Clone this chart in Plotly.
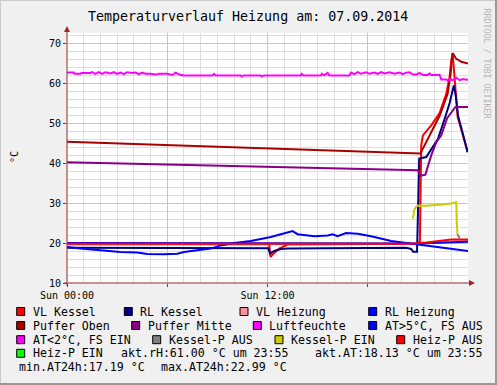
import plotly.graph_objects as go

# ---------------- data (hours of day, °C / %) ----------------
vl_kessel_t = [0, 12.1, 12.18, 12.35, 12.7, 13.2, 21.0, 21.12, 21.2, 21.3, 21.8, 22.3, 22.7, 22.9, 23.0, 23.08, 23.18, 23.28, 23.38, 23.7, 23.98]
vl_kessel_v = [19.7, 19.7, 16.5, 17.3, 18.6, 19.6, 19.8, 20.5, 44.4, 46.9, 49.4, 52.5, 57.3, 61.5, 65.7, 67.3, 62.3, 56.5, 51.5, 46.9, 42.7]

rl_kessel_t = [0, 12.05, 12.15, 12.4, 12.8, 13.2, 20.3, 20.6, 20.72, 20.95, 21.02, 21.08, 21.5, 22.2, 22.6, 22.9, 23.15, 23.28, 23.4, 23.7, 23.98]
rl_kessel_v = [18.8, 18.7, 17.4, 18.0, 18.5, 18.6, 18.8, 18.5, 17.8, 17.8, 30.0, 41.1, 41.5, 46.0, 51.0, 55.0, 59.4, 56.5, 51.9, 46.9, 42.7]

vl_heizung_t = [0, 12, 21, 24]
vl_heizung_v = [19.8, 19.8, 19.8, 20.7]

rl_heizung_t = [0, 12, 21, 24]
rl_heizung_v = [20.0, 19.95, 19.85, 20.3]

puffer_oben_t = [0, 21.15, 21.3, 21.5, 21.8, 22.3, 22.78, 22.95, 23.08, 23.28, 23.6, 24.0]
puffer_oben_v = [45.3, 42.35, 43.6, 45.3, 47.8, 51.8, 57.3, 62.0, 67.5, 66.1, 65.3, 64.85]

puffer_mitte_t = [0, 21.0, 21.15, 21.45, 21.8, 22.1, 22.4, 22.75, 23.25, 24.0]
puffer_mitte_v = [40.2, 38.2, 36.8, 37.1, 41.9, 45.2, 46.9, 51.2, 54.0, 54.0]

luft_t = [0.0, 0.4, 0.45, 0.8, 0.85, 1.4, 1.5, 1.7, 1.9, 2.1, 2.3, 2.6, 2.8, 3.0, 3.2, 3.4, 3.6, 3.9, 4.1, 4.3,
          4.5, 4.7, 5.0, 5.3, 5.5, 5.8, 6.0, 6.3, 6.5, 6.7, 7.0, 8.7, 8.8, 8.9, 10.4, 10.45, 10.6, 11.6, 11.65, 11.8,
          14.0, 14.05, 14.15, 15.2, 15.25, 15.4, 15.6, 15.7, 16.9, 17.0, 17.2, 17.4, 17.6, 17.9, 18.1, 18.4, 18.6,
          18.8, 19.0, 19.3, 19.6, 19.9, 20.1, 20.3, 20.5, 20.7, 20.9, 21.1, 21.3, 21.6, 21.7, 21.8, 22.3, 22.4,
          22.7, 22.8, 22.9, 23.1, 23.3, 23.5, 23.7, 23.9, 24.0]
luft_v = [62.6, 62.6, 62.3, 62.3, 62.5, 62.5, 62.7, 62.3, 62.7, 62.3, 62.7, 62.4, 62.7, 62.3, 62.6, 62.2, 62.7, 62.5, 62.6, 62.2,
          62.6, 62.3, 62.3, 62.1, 62.3, 62.2, 62.3, 62.0, 62.6, 62.1, 61.9, 61.9, 62.3, 61.9, 61.9, 61.6, 61.9, 61.9, 61.6, 61.9,
          61.9, 62.3, 61.9, 61.9, 62.3, 61.9, 62.5, 61.9, 61.9, 62.6, 62.2, 62.7, 62.3, 62.7, 62.3, 62.6, 62.3,
          62.7, 62.4, 62.7, 62.3, 62.6, 62.2, 62.6, 62.7, 62.1, 62.1, 62.5, 62.0, 62.0, 62.4, 62.0, 62.0, 60.9,
          60.9, 60.6, 61.0, 60.7, 61.3, 60.7, 61.0, 60.8, 60.9]

at_warm_t = [0, 0.8, 2.0, 3.2, 4.2, 4.8, 5.8, 6.6, 7.0, 7.8, 8.6, 9.2, 10.0, 11.0, 12.2, 12.8, 13.5, 13.8, 14.8, 15.6,
             15.9, 16.2, 16.7, 17.4, 18.2, 19.4, 20.3, 22.1, 24.0]
at_warm_v = [19.0, 18.6, 18.2, 17.75, 17.6, 17.25, 17.2, 17.3, 17.75, 18.2, 18.6, 19.4, 20.0, 20.5, 21.5, 22.2, 22.99, 22.2, 21.7, 21.9,
             22.2, 21.7, 22.5, 22.3, 21.7, 20.5, 20.0, 19.0, 18.0]

kessel_aus_t = [23.36, 23.42, 23.5]
kessel_aus_v = [22.2, 21.6, 21.2]

kessel_ein_t = [20.7, 20.78, 20.88, 21.0, 21.5, 22.0, 22.5, 23.0, 23.3, 23.33, 23.37]
kessel_ein_v = [26.1, 28.2, 29.0, 29.4, 29.3, 29.4, 29.6, 29.9, 30.2, 25.0, 22.2]

heiz_aus_t = [0, 20.5, 21.5, 22.5, 23.0, 24.0]
heiz_aus_v = [19.8, 19.8, 20.1, 20.5, 20.85, 20.9]

# legend entries
legend_items = [
    ("VL Kessel", "#FF0000"), ("RL Kessel", "#000080"), ("VL Heizung", "#FF8C9F"), ("RL Heizung", "#0000FF"),
    ("Puffer Oben", "#AA0000"), ("Puffer Mitte", "#880088"), ("Luftfeuchte", "#FF00FF"), ("AT>5°C, FS AUS", "#0000FF"),
    ("AT<2°C, FS EIN", "#FF00FF"), ("Kessel-P AUS", "#808080"), ("Kessel-P EIN", "#CCCC00"), ("Heiz-P AUS", "#FF0000"),
    ("Heiz-P EIN", "#00FF00"),
]
info_texts = ["akt.rH:61.00 °C um 23:55", "akt.AT:18.13 °C um 23:55",
              "min.AT24h:17.19 °C", "max.AT24h:22.99 °C"]
x_tickvals = [0, 6, 12, 18]
x_ticktext = ["Sun 00:00", "", "Sun 12:00", ""]
title_text = "Temperaturverlauf Heizung am: 07.09.2014"

# ---------------- layout helpers ----------------
W, H = 497, 385
ML, MR, MT, MB = 67, 29, 33, 102
PW, PH = W - ML - MR, H - MT - MB
FONT = "DejaVu Sans Mono"
AXC = "#9B2B2B"


def fx(x):
    return (x - ML) / PW


def fy(y):
    return (H - MB - y) / PH


fig = go.Figure()

series = [
    (vl_kessel_t, vl_kessel_v, "#FF0000", "VL Kessel"),
    (rl_kessel_t, rl_kessel_v, "#000080", "RL Kessel"),
    (vl_heizung_t, vl_heizung_v, "#FF8C9F", "VL Heizung"),
    (rl_heizung_t, rl_heizung_v, "#0000FF", "RL Heizung"),
    (puffer_oben_t, puffer_oben_v, "#AA0000", "Puffer Oben"),
    (puffer_mitte_t, puffer_mitte_v, "#880088", "Puffer Mitte"),
    (luft_t, luft_v, "#FF00FF", "Luftfeuchte"),
    (at_warm_t, at_warm_v, "#0000FF", "AT>5°C, FS AUS"),
    (kessel_aus_t, kessel_aus_v, "#808080", "Kessel-P AUS"),
    (kessel_ein_t, kessel_ein_v, "#CCCC00", "Kessel-P EIN"),
    (heiz_aus_t, heiz_aus_v, "#FF0000", "Heiz-P AUS"),
]
for t, v, c, n in series:
    fig.add_trace(go.Scatter(x=t, y=v, mode="lines", name=n, line=dict(color=c, width=2),
                             showlegend=False, hoverinfo="skip"))

shapes = []
annotations = []

# axes lines with arrows
shapes.append(dict(type="line", xref="paper", yref="paper", x0=fx(64), x1=fx(470), y0=0, y1=0,
                   line=dict(color=AXC, width=1), layer="above"))
shapes.append(dict(type="path", xref="paper", yref="paper",
                   path=f"M {fx(469)} {fy(280)} L {fx(475)} {fy(283)} L {fx(469)} {fy(286)} Z",
                   fillcolor=AXC, line=dict(color=AXC, width=0), layer="above"))
shapes.append(dict(type="line", xref="paper", yref="paper", x0=0, x1=0, y0=fy(286), y1=fy(31),
                   line=dict(color=AXC, width=1), layer="above"))
shapes.append(dict(type="path", xref="paper", yref="paper",
                   path=f"M {fx(64)} {fy(32)} L {fx(67)} {fy(26)} L {fx(70)} {fy(32)} Z",
                   fillcolor=AXC, line=dict(color=AXC, width=0), layer="above"))

# frame (3D shade)
shapes.append(dict(type="line", xref="paper", yref="paper", x0=fx(0.5), x1=fx(0.5), y0=fy(0), y1=fy(H),
                   line=dict(color="#CBCBCB", width=1)))
shapes.append(dict(type="line", xref="paper", yref="paper", x0=fx(0), x1=fx(W), y0=fy(0.5), y1=fy(0.5),
                   line=dict(color="#CBCBCB", width=1)))
shapes.append(dict(type="line", xref="paper", yref="paper", x0=fx(W - 1), x1=fx(W - 1), y0=fy(0), y1=fy(H),
                   line=dict(color="#999999", width=2)))
shapes.append(dict(type="line", xref="paper", yref="paper", x0=fx(0), x1=fx(W), y0=fy(H - 1), y1=fy(H - 1),
                   line=dict(color="#999999", width=2)))

# legend
row_y = [311.5, 325.5, 339.7, 353.3, 367.3]
text_x = [
    (0, 30.7), (0, 138.3), (0, 254.0), (0, 382.7),
    (1, 30.7), (1, 145.7), (1, 267.3), (1, 382.7),
    (2, 30.7), (2, 166.7), (2, 289.0), (2, 410.7),
    (3, 30.7),
]
LF = 11.6
for (row, tx), (label, col) in zip(text_x, legend_items):
    cy = row_y[row]
    bx = tx - 14
    shapes.append(dict(type="rect", xref="paper", yref="paper", x0=fx(bx), x1=fx(bx + 8),
                       y0=fy(cy - 4), y1=fy(cy + 4), fillcolor=col, line=dict(color="#000000", width=1)))
    annotations.append(dict(xref="paper", yref="paper", x=fx(tx), y=fy(cy), text=label, showarrow=False,
                            xanchor="left", yanchor="middle", font=dict(family=FONT, size=LF, color="#000")))
for (row, tx), txt in zip([(3, 119.0), (3, 312.7), (4, 16.7), (4, 159.0)], info_texts):
    annotations.append(dict(xref="paper", yref="paper", x=fx(tx), y=fy(row_y[row]), text=txt, showarrow=False,
                            xanchor="left", yanchor="middle", font=dict(family=FONT, size=LF, color="#000")))

# title, unit, watermark
annotations.append(dict(xref="paper", yref="paper", x=fx(248), y=fy(16.5), text=title_text, showarrow=False,
                        xanchor="center", yanchor="middle", font=dict(family=FONT, size=13.3, color="#000")))
annotations.append(dict(xref="paper", yref="paper", x=fx(14), y=fy(157), text="°C", showarrow=False,
                        textangle=-90, xanchor="center", yanchor="middle",
                        font=dict(family=FONT, size=10, color="#000")))
annotations.append(dict(xref="paper", yref="paper", x=fx(486.5), y=fy(63), text="RRDTOOL / TOBI OETIKER",
                        showarrow=False, textangle=90, xanchor="center", yanchor="middle",
                        font=dict(family=FONT, size=8.3, color="#B5B5B5")))

fig.update_layout(
    template="none",
    width=W, height=H, autosize=False,
    margin=dict(l=ML, r=MR, t=MT, b=MB, pad=0),
    paper_bgcolor="#F0F0F0", plot_bgcolor="#FFFFFF",
    showlegend=False,
    shapes=shapes, annotations=annotations,
    font=dict(family=FONT, size=10, color="#000"),
)
fig.update_xaxes(range=[0, 24], tickmode="array", tickvals=x_tickvals, ticktext=x_ticktext,
                 showgrid=True, gridcolor="#F4B4B4", gridwidth=1, zeroline=False, showline=False,
                 ticks="outside", ticklen=3, tickcolor=AXC, automargin=False,
                 minor=dict(dtick=1, showgrid=True, gridcolor="#DEDEDE", gridwidth=1),
                 tickfont=dict(family=FONT, size=10, color="#000"), fixedrange=True)
fig.update_yaxes(range=[10, 72.5], tickmode="linear", tick0=10, dtick=10,
                 showgrid=True, gridcolor="#F4B4B4", gridwidth=1, zeroline=False, showline=False,
                 ticks="outside", ticklen=3, tickcolor=AXC, automargin=False,
                 minor=dict(dtick=2, tick0=10, showgrid=True, gridcolor="#DEDEDE", gridwidth=1),
                 tickfont=dict(family=FONT, size=10, color="#000"), fixedrange=True)

fig.write_html("out.html", config={"displayModeBar": False, "staticPlot": True},
               post_script="document.body.style.margin='0';document.body.style.overflow='hidden';")
